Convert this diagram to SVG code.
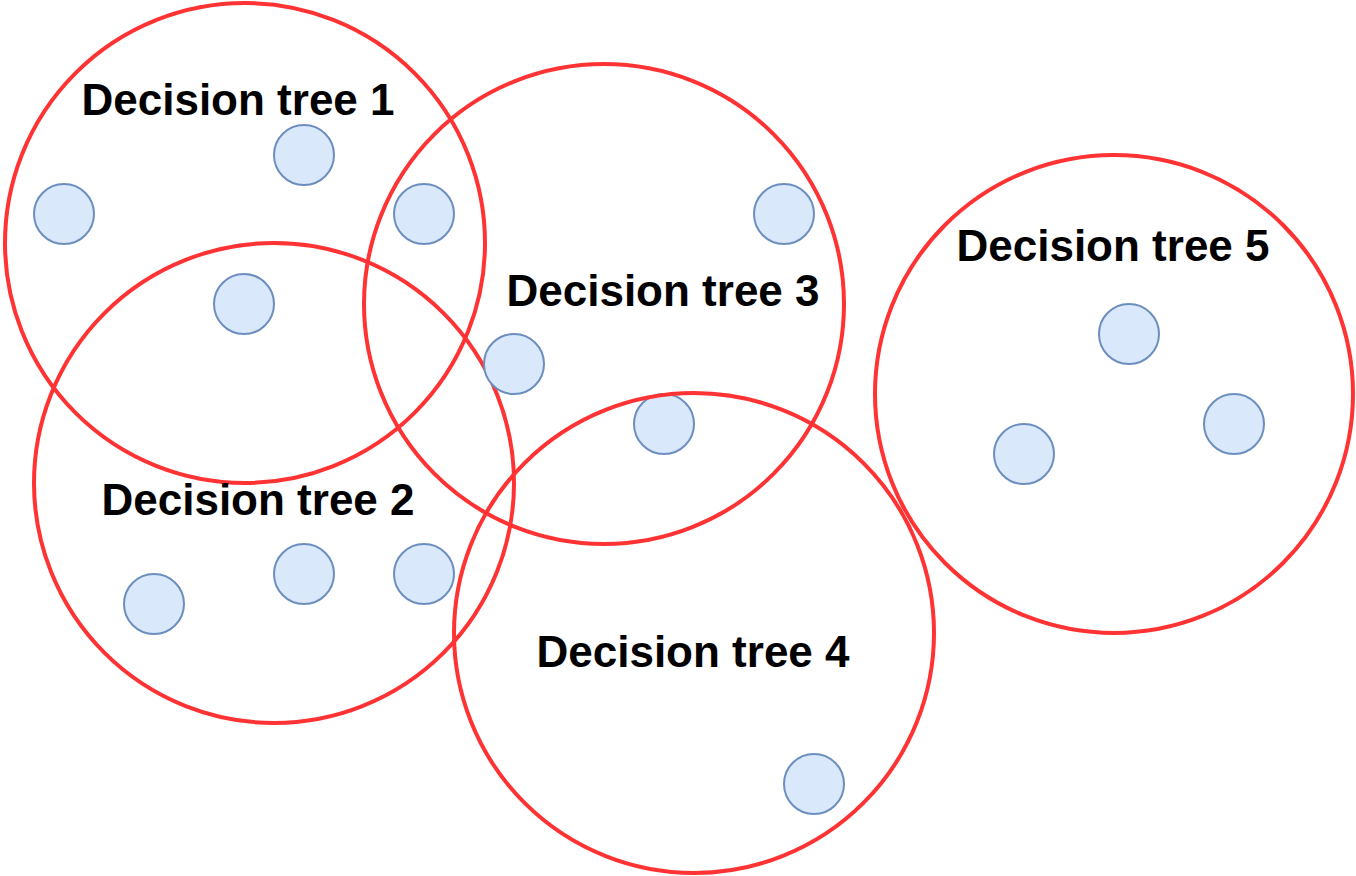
<svg xmlns="http://www.w3.org/2000/svg" width="1356" height="876" viewBox="0 0 1356 876">
<style>
.tree{fill:none;stroke:#ff3333;stroke-width:4}
.dot{fill:#dae8fc;stroke:#6c8ebf;stroke-width:2}
.lbl{font-family:"Liberation Sans",Arial,sans-serif;font-weight:bold;font-size:44px;fill:#000;text-anchor:middle}
</style>
<rect width="1356" height="876" fill="#fff"/>
<g id="tree1"><circle class="tree" cx="245" cy="243" r="240"/><text class="lbl" x="238" y="115">Decision tree 1</text></g>
<g id="tree2"><circle class="tree" cx="274" cy="483" r="240"/><text class="lbl" x="258" y="515">Decision tree 2</text></g>
<g id="tree3"><circle class="tree" cx="604" cy="304" r="240"/><text class="lbl" x="663" y="306">Decision tree 3</text></g>
<g id="tree5"><circle class="tree" cx="1114" cy="394" r="239"/><text class="lbl" x="1113" y="261">Decision tree 5</text></g>
<g id="points">
<circle class="dot" cx="304" cy="155" r="30"/>
<circle class="dot" cx="64" cy="214" r="30"/>
<circle class="dot" cx="424" cy="214" r="30"/>
<circle class="dot" cx="244" cy="304" r="30"/>
<circle class="dot" cx="784" cy="214" r="30"/>
<circle class="dot" cx="514" cy="364" r="30"/>
<circle class="dot" cx="664" cy="424" r="30"/>
<circle class="dot" cx="1129" cy="334" r="30"/>
<circle class="dot" cx="1234" cy="424" r="30"/>
<circle class="dot" cx="1024" cy="454" r="30"/>
<circle class="dot" cx="154" cy="604" r="30"/>
<circle class="dot" cx="304" cy="574" r="30"/>
<circle class="dot" cx="424" cy="574" r="30"/>
<circle class="dot" cx="814" cy="784" r="30"/>
</g>
<g id="tree4"><circle class="tree" cx="694" cy="633" r="240"/><text class="lbl" x="693" y="667">Decision tree 4</text></g>
<g id="connectors"/>
</svg>
